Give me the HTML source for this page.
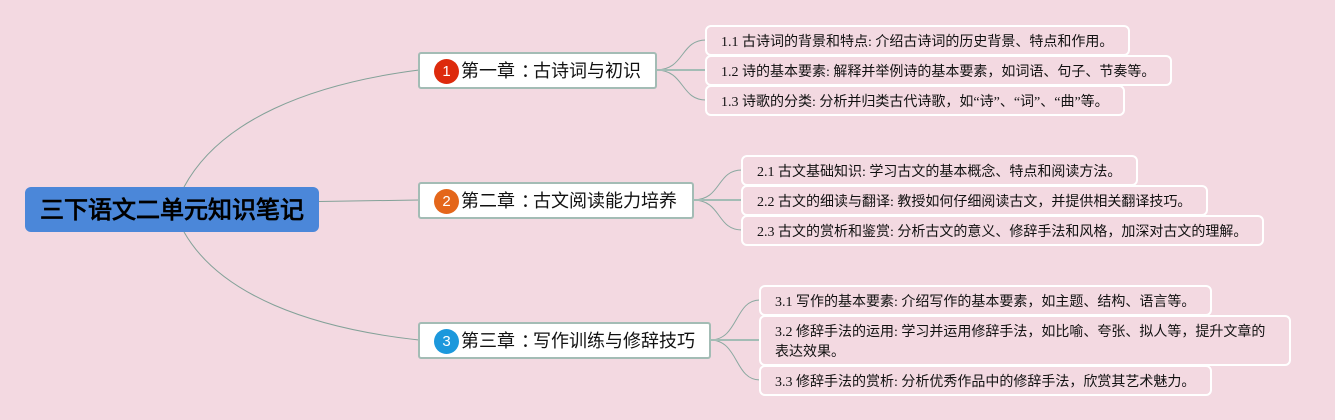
<!DOCTYPE html>
<html><head><meta charset="utf-8">
<style>
html,body{margin:0;padding:0;background:#f3d9e1;}
#c{position:relative;width:1335px;height:420px;overflow:hidden;background:#f3d9e1;font-family:"Liberation Serif","WenQuanYi Zen Hei",serif;}
svg{position:absolute;left:0;top:0;}
.root{position:absolute;left:25px;top:187.4px;width:294px;height:45px;background:#4b87d9;border-radius:6px;color:#000;font:bold 24px/47px "Liberation Sans","WenQuanYi Zen Hei",sans-serif;text-align:center;white-space:nowrap;}
.l1{position:absolute;box-sizing:border-box;height:37px;background:#fff;border:2px solid #a3bcb5;border-radius:3px;font:18px/35.500px "Liberation Sans","WenQuanYi Zen Hei",sans-serif;color:#111;white-space:nowrap;padding-left:41px;}
.l1 b{font-weight:normal;position:relative;left:6px;}
.ic{position:absolute;left:14px;top:5.500px;width:25px;height:25px;border-radius:50%;color:#fff;font:15px/25px "Liberation Sans",sans-serif;text-align:center;}
.l2{position:absolute;box-sizing:border-box;border:2px solid #fff;border-radius:6px;background:#f3d9e1;font-size:14px;line-height:20px;color:#111;padding:6px 0 0 14px;height:31px;white-space:nowrap;}
</style></head><body><div id="c">
<svg width="1335" height="420" fill="none">
<g stroke="#83a198" stroke-width="1">
<path d="M184 187C220 120 310 84 419 70"/>
<path d="M319 201.500L419 200"/>
<path d="M184 232C220 295 310 328 419 340"/>
</g>
<g stroke="#8aa8a0" stroke-width="1">
<path d="M656 70C685 70 680 40 706 40"/>
<path d="M656 70C685 70 680 100 706 100"/>
<path d="M693 200C722 200 716 170 742 170"/>
<path d="M693 200C722 200 716 230 742 230"/>
<path d="M710 340C739 340 734 300 760 300"/>
<path d="M710 340C739 340 734 380 760 380"/>
</g>
<g stroke="#a3bcb5" stroke-width="2">
<path d="M656 70H706"/><path d="M693 200H742"/><path d="M710 340H760"/>
</g>
</svg>
<div class="root">三下语文二单元知识笔记</div>

<div class="l1" style="left:418px;top:51.500px;width:239px;"><span class="ic" style="background:#dd2a0c;">1</span>第一章<b>：</b>古诗词与初识</div>
<div class="l1" style="left:418px;top:181.500px;width:276px;"><span class="ic" style="background:#e4661a;">2</span>第二章<b>：</b>古文阅读能力培养</div>
<div class="l1" style="left:418px;top:321.500px;width:293px;"><span class="ic" style="background:#1c98dc;">3</span>第三章<b>：</b>写作训练与修辞技巧</div>

<div class="l2" style="left:705px;top:25px;width:425px;">1.1 古诗词的背景和特点: 介绍古诗词的历史背景、特点和作用。</div>
<div class="l2" style="left:705px;top:55px;width:467px;">1.2 诗的基本要素: 解释并举例诗的基本要素，如词语、句子、节奏等。</div>
<div class="l2" style="left:705px;top:85px;width:420px;">1.3 诗歌的分类: 分析并归类古代诗歌，如“诗”、“词”、“曲”等。</div>

<div class="l2" style="left:741px;top:155px;width:397px;">2.1 古文基础知识: 学习古文的基本概念、特点和阅读方法。</div>
<div class="l2" style="left:741px;top:185px;width:467px;">2.2 古文的细读与翻译: 教授如何仔细阅读古文，并提供相关翻译技巧。</div>
<div class="l2" style="left:741px;top:215px;width:523px;">2.3 古文的赏析和鉴赏: 分析古文的意义、修辞手法和风格，加深对古文的理解。</div>

<div class="l2" style="left:759px;top:285px;width:453px;">3.1 写作的基本要素: 介绍写作的基本要素，如主题、结构、语言等。</div>
<div class="l2" style="left:759px;top:315px;width:532px;height:51px;">3.2 修辞手法的运用: 学习并运用修辞手法，如比喻、夸张、拟人等，提升文章的<br>表达效果。</div>
<div class="l2" style="left:759px;top:365px;width:453px;">3.3 修辞手法的赏析: 分析优秀作品中的修辞手法，欣赏其艺术魅力。</div>
</div></body></html>
